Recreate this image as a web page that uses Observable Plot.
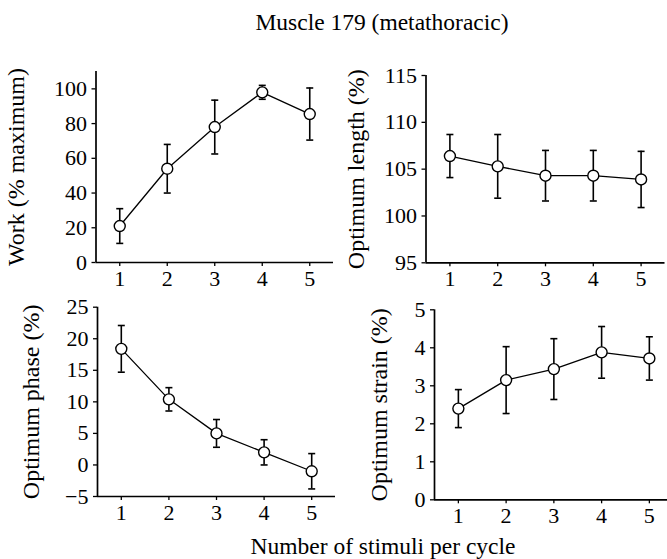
<!DOCTYPE html>
<html><head><meta charset="utf-8">
<script src="https://cdn.jsdelivr.net/npm/d3@7"></script>
<script src="https://cdn.jsdelivr.net/npm/@observablehq/plot@0.6"></script>
<style>
body{margin:0;background:#fff;}
#fig{position:relative;width:667px;height:559px;overflow:hidden;font-family:"Liberation Serif","Times New Roman",serif;color:#000;background:#fff;}
#fig svg{position:absolute;left:0;top:0;}
.lbl{position:absolute;font-size:23.5px;line-height:1;white-space:nowrap;transform:translateX(-50%);}
</style></head><body>
<div id="fig">
  <div class="lbl" style="left:382px;top:11px">Muscle 179 (metathoracic)</div>
  <div class="lbl" style="left:383px;top:535px">Number of stimuli per cycle</div>
</div>
<script>
// ---- data ----
const stimuli = [1, 2, 3, 4, 5];
const work = [21, 54, 78, 98, 85.5];
const workErr = [10, 14, 15.5, 4, 15];
const optLength = [106.4, 105.3, 104.3, 104.3, 103.9];
const optLengthErr = [2.3, 3.4, 2.7, 2.7, 3.0];
const optPhase = [18.4, 10.4, 5.0, 2.0, -1.0];
const optPhaseErr = [3.7, 1.85, 2.2, 2.0, 2.8];
const optStrain = [2.4, 3.15, 3.44, 3.88, 3.72];
const optStrainErr = [0.5, 0.88, 0.8, 0.68, 0.57];
const workTicks = [0, 20, 40, 60, 80, 100];
const lengthTicks = [95, 100, 105, 110, 115];
const phaseTicks = [-5, 0, 5, 10, 15, 20, 25];
const strainTicks = [0, 1, 2, 3, 4, 5];

// ---- layout ----
const W = 667, H = 559;
const panels = [
  {values: work, errors: workErr, label: "Work (% maximum)", yDomain: [0, 110], yTicks: workTicks,
   frame: {left: 95.5, right: 333, top: 71, bottom: 262}, labelOffset: 89, xMax: 5.5},
  {values: optLength, errors: optLengthErr, label: "Optimum length (%)", yDomain: [95, 115], yTicks: lengthTicks,
   frame: {left: 425.5, right: 664.5, top: 75, bottom: 262.3}, labelOffset: 79, xMax: 5.5},
  {values: optPhase, errors: optPhaseErr, label: "Optimum phase (%)", yDomain: [-5, 25], yTicks: phaseTicks,
   frame: {left: 97, right: 335, top: 306.7, bottom: 496}, labelOffset: 75.5, xMax: 5.5},
  {values: optStrain, errors: optStrainErr, label: "Optimum strain (%)", yDomain: [0, 5], yTicks: strainTicks,
   frame: {left: 434, right: 667, top: 309.3, bottom: 499.3}, labelOffset: 64.5, xMax: 5.38}
];

const cap = {draw(ctx, size) { const r = Math.sqrt(size / Math.PI); ctx.moveTo(-r, 0); ctx.lineTo(r, 0); }};
const intFmt = d3.format("d");

function panel(p) {
  const rows = stimuli.map((s, i) => ({x: s, y: p.values[i], lo: p.values[i] - p.errors[i], hi: p.values[i] + p.errors[i]}));
  return Plot.plot({
    width: W, height: H,
    marginLeft: p.frame.left, marginRight: W - p.frame.right,
    marginTop: p.frame.top, marginBottom: H - p.frame.bottom,
    style: {background: "transparent", fontFamily: "'Liberation Serif', 'Times New Roman', serif", fontSize: "22px", color: "black", overflow: "visible"},
    x: {domain: [0.5, p.xMax]},
    y: {domain: p.yDomain},
    marks: [
      Plot.axisX({ticks: stimuli, tickSize: 4, tickPadding: 4, tickFormat: intFmt, label: null, strokeWidth: 1.3}),
      Plot.axisY({ticks: p.yTicks, tickSize: 4, tickPadding: 5, tickFormat: intFmt, label: null, strokeWidth: 1.3}),
      Plot.axisY({ticks: [], tickSize: 0, label: p.label, labelAnchor: "center", labelArrow: "none", labelOffset: p.labelOffset, fontSize: 24}),
      Plot.ruleY([p.yDomain[0]], {stroke: "black", strokeWidth: 1.7}),
      Plot.ruleX([0.5], {stroke: "black", strokeWidth: 1.7}),
      Plot.ruleX(rows, {x: "x", y1: "lo", y2: "hi", stroke: "black", strokeWidth: 1.6}),
      Plot.dot(rows, {x: "x", y: "lo", symbol: cap, r: 3.5, fill: "none", stroke: "black", strokeWidth: 1.6}),
      Plot.dot(rows, {x: "x", y: "hi", symbol: cap, r: 3.5, fill: "none", stroke: "black", strokeWidth: 1.6}),
      Plot.line(rows, {x: "x", y: "y", stroke: "black", strokeWidth: 1.3}),
      Plot.dot(rows, {x: "x", y: "y", r: 5.5, fill: "white", stroke: "black", strokeWidth: 1.4})
    ]
  });
}

const fig = document.getElementById("fig");
for (const p of panels) fig.appendChild(panel(p));
</script>
</body></html>
